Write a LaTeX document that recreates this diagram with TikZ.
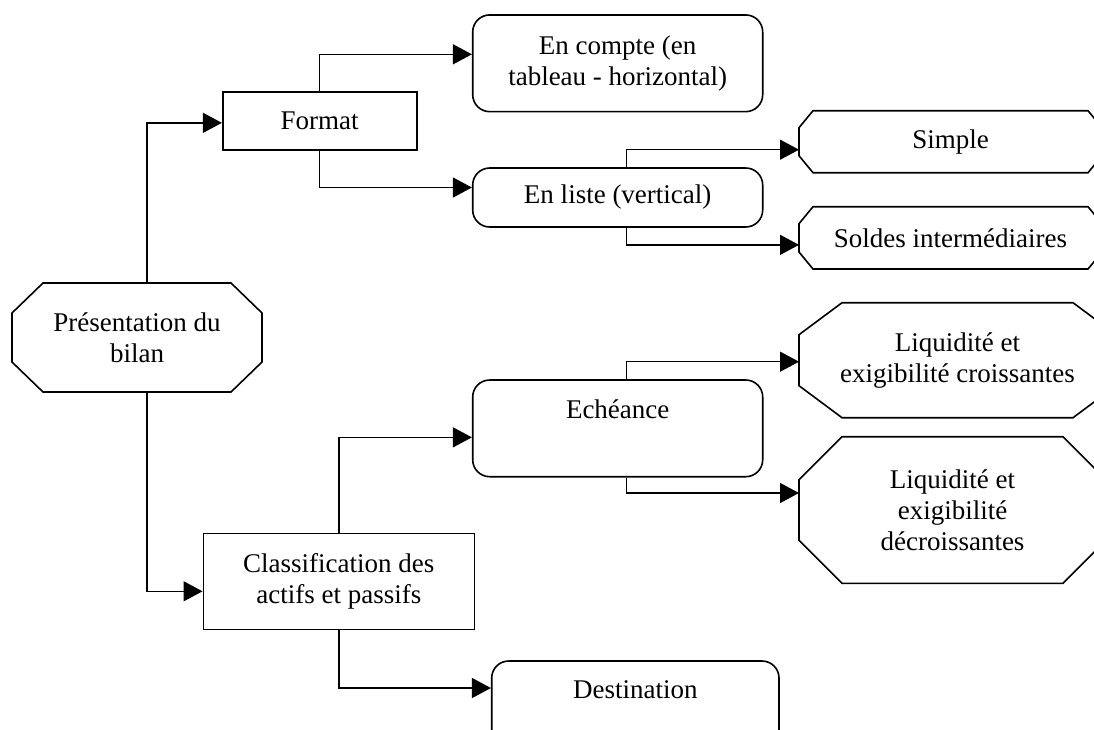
\documentclass[tikz,border=0pt]{standalone}
\usepackage{fontspec}
\setmainfont{Liberation Serif}
\usetikzlibrary{arrows.meta,calc}
\tikzset{
  lbl/.style={inner sep=0pt, align=center, font=\fontsize{27}{31}\selectfont},
  box/.style={lbl, draw, line width=1.6pt},
  rbox/.style={box, rounded corners=17pt},
  obox/.style={lbl, draw=none, outer sep=0pt},
  octline/.style={draw, line width=1.6pt, line join=miter},
  conn/.style={line width=1.4pt, -{Triangle[length=19pt,width=20pt]}},
}
\newcommand\octo[3]{%
  \path[octline] ([xshift=#2]#1.north west) -- ([xshift=-#2]#1.north east)
    -- ([yshift=-#3]#1.north east) -- ([yshift=#3]#1.south east)
    -- ([xshift=-#2]#1.south east) -- ([xshift=#2]#1.south west)
    -- ([yshift=#3]#1.south west) -- ([yshift=-#3]#1.north west) -- cycle;}
\begin{document}
\begin{tikzpicture}[x=1pt,y=-1pt]
\useasboundingbox (0,0) rectangle (1094,729);
\clip (0,0) rectangle (1094,729);

% octagons
\node[obox, minimum width=250pt, minimum height=109pt] (pres) at (137,337.5) {Présentation du\\bilan};
\octo{pres}{31pt}{30pt}
\node[obox, minimum width=303pt, minimum height=62pt] (simple) at (950.5,141.7) {Simple};
\octo{simple}{14pt}{17pt}
\node[obox, minimum width=303pt, minimum height=62.3pt] (soldes) at (950.5,237.85) {Soldes intermédiaires};
\octo{soldes}{14pt}{17pt}
\node[obox, minimum width=317pt, minimum height=115pt] (croiss) at (957.5,360.2) {Liquidité et\\exigibilité croissantes};
\octo{croiss}{43pt}{32pt}
\node[obox, minimum width=307pt, minimum height=146.6pt] (decroiss) at (952.5,510) {Liquidité et\\exigibilité\\décroissantes};
\octo{decroiss}{43pt}{43pt}

% rectangles
\node[box, minimum width=194pt, minimum height=58.3pt] (fmt) at (319.7,120.85) {Format};
\node[box, minimum width=271pt, minimum height=96pt] (classif) at (338.8,581.3) {Classification des\\actifs et passifs};

% rounded boxes
\node[rbox, minimum width=290pt, minimum height=96.7pt] (compte) at (617.7,63.3) {En compte (en\\tableau - horizontal)};
\node[rbox, minimum width=290pt, minimum height=59pt] (liste) at (617.7,197.5) {En liste (vertical)};
\node[rbox, minimum width=290pt, minimum height=96.7pt] (ech) at (617.7,428.35) {};
\node[lbl] (echtxt) at ($(ech.north)+(0,30)$) {Echéance};
\node[rbox, minimum width=287.3pt, minimum height=97pt] (dest) at (635.35,709.5) {};
\node[lbl] (desttxt) at ($(dest.north)+(0,29)$) {Destination};

% connectors
\draw[conn] ([xshift=10pt]pres.north) |- ([yshift=-2pt]fmt.west);
\draw[conn] ([xshift=10pt]pres.south) |- ([yshift=-10pt]classif.west);
\draw[conn] (fmt.north) |- ([yshift=9pt]compte.west);
\draw[conn] (fmt.south) |- ([yshift=10pt]liste.west);
\draw[conn] ([xshift=9pt]liste.north) |- ([yshift=-8pt]simple.west);
\draw[conn] ([xshift=9pt]liste.south) |- ([yshift=-7pt]soldes.west);
\draw[conn] (classif.north) |- ([yshift=-9pt]ech.west);
\draw[conn] (classif.south) |- ([yshift=21.5pt]dest.west);
\draw[conn] ([xshift=9pt]ech.north) |- ([yshift=-1.5pt]croiss.west);
\draw[conn] ([xshift=9pt]ech.south) |- ([yshift=17pt]decroiss.west);
\end{tikzpicture}
\end{document}
